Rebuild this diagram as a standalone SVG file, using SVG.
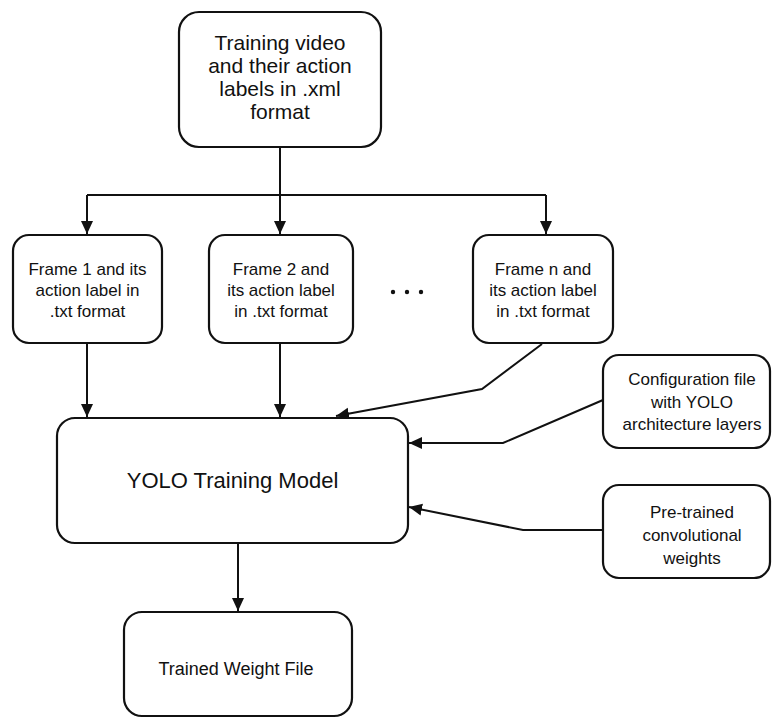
<svg xmlns="http://www.w3.org/2000/svg" width="774" height="720" viewBox="0 0 774 720">
<style>
.box{fill:#fff;stroke:#111;stroke-width:2.2}
.t{font-family:"Liberation Sans",Arial,sans-serif;fill:#111;text-anchor:middle}
.c{fill:none;stroke:#111;stroke-width:2}
</style>
<defs>
<marker id="ah" markerUnits="userSpaceOnUse" markerWidth="14" markerHeight="14" viewBox="0 0 14 14" refX="13" refY="7" orient="auto">
<path d="M0,1 L13,7 L0,13 Z" fill="#111"/>
</marker>
</defs>
<rect width="774" height="720" fill="#fff"/>
<g id="connectors">
<path class="c" d="M280,147 V195"/>
<path class="c" d="M87,195 H546"/>
<path class="c" d="M87,195 V234" marker-end="url(#ah)"/>
<path class="c" d="M280,195 V234" marker-end="url(#ah)"/>
<path class="c" d="M546,195 V234" marker-end="url(#ah)"/>
<path class="c" d="M87,343 V417" marker-end="url(#ah)"/>
<path class="c" d="M280,343 V417" marker-end="url(#ah)"/>
<path class="c" d="M542,344 L482,389 L336,416" marker-end="url(#ah)"/>
<path class="c" d="M603,400 L503,443 L409,443" marker-end="url(#ah)"/>
<path class="c" d="M603,530 L523,530 L409,507" marker-end="url(#ah)"/>
<path class="c" d="M238,543 V611" marker-end="url(#ah)"/>
</g>
<g id="source">
<rect class="box" x="179" y="12" width="202" height="135" rx="20"/>
<text class="t" font-size="21"><tspan x="280" y="50">Training video</tspan><tspan x="280" y="73">and their action</tspan><tspan x="280" y="96">labels in .xml</tspan><tspan x="280" y="119">format</tspan></text>
</g>
<g id="frame1">
<rect class="box" x="13" y="235" width="149" height="108" rx="16"/>
<text class="t" font-size="17"><tspan x="87.5" y="275">Frame 1 and its</tspan><tspan x="87.5" y="296">action label in</tspan><tspan x="87.5" y="317">.txt format</tspan></text>
</g>
<g id="frame2">
<rect class="box" x="209" y="235" width="144" height="108" rx="16"/>
<text class="t" font-size="17"><tspan x="281" y="275">Frame 2 and</tspan><tspan x="281" y="296">its action label</tspan><tspan x="281" y="317">in .txt format</tspan></text>
</g>
<g id="ellipsis">
<circle cx="393" cy="292" r="2.2" fill="#111"/>
<circle cx="407" cy="292" r="2.2" fill="#111"/>
<circle cx="421" cy="292" r="2.2" fill="#111"/>
</g>
<g id="framen">
<rect class="box" x="473" y="235" width="140" height="108" rx="16"/>
<text class="t" font-size="17"><tspan x="543" y="275">Frame n and</tspan><tspan x="543" y="296">its action label</tspan><tspan x="543" y="317">in .txt format</tspan></text>
</g>
<g id="yolo">
<rect class="box" x="57" y="418" width="351" height="125" rx="18"/>
<text class="t" font-size="22" x="232.5" y="488">YOLO Training Model</text>
</g>
<g id="config">
<rect class="box" x="603" y="355" width="167" height="93" rx="16"/>
<text class="t" font-size="17"><tspan x="692" y="385">Configuration file</tspan><tspan x="692" y="408">with YOLO</tspan><tspan x="692" y="430">architecture layers</tspan></text>
</g>
<g id="pretrained">
<rect class="box" x="603" y="485" width="167" height="93" rx="16"/>
<text class="t" font-size="17"><tspan x="692" y="518">Pre-trained</tspan><tspan x="692" y="541">convolutional</tspan><tspan x="692" y="564">weights</tspan></text>
</g>
<g id="trained">
<rect class="box" x="124" y="612" width="228" height="104" rx="18"/>
<text class="t" font-size="18" x="236" y="675">Trained Weight File</text>
</g>
</svg>
